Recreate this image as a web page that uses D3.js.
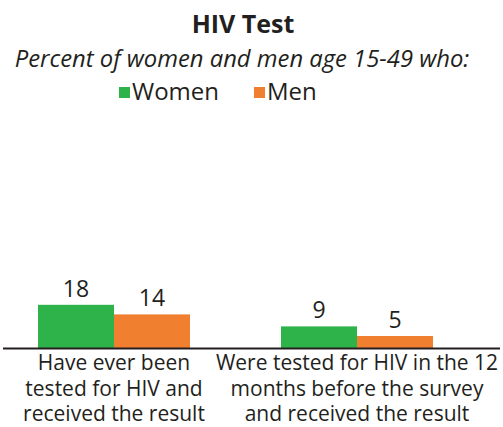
<!DOCTYPE html>
<html>
<head>
<meta charset="utf-8">
<script src="https://cdn.jsdelivr.net/npm/d3@7"></script>
<style>
    body { margin: 0; background: #fff; }
    svg { display: block; font-family: "Open Sans", sans-serif; }
</style>
</head>
<body>
<div id="wrapper"></div>
<script>
// data
const categories = ["ever", "last12"]
const categoryLabels = [
    ["Have ever been", "tested for HIV and", "received the result"],
    ["Were tested for HIV in the 12", "months before the survey", "and received the result"]
]
const seriesNames = ["Women", "Men"]
const womenValues = [18, 9]
const menValues = [14, 5]
const colors = ["#2db34a", "#f07f30"]

function drawChart() {
    const dataset = categories.map((c, i) => ({
        category: c,
        lines: categoryLabels[i],
        values: [
            {series: seriesNames[0], value: womenValues[i]},
            {series: seriesNames[1], value: menValues[i]}
        ]
    }))

    // chart dimensions
    let dimensions = {
        width: 503,
        height: 427,
        margin: {top: 108, right: 70, bottom: 79, left: 38}
    }
    dimensions.boundedWidth = dimensions.width
        - dimensions.margin.left
        - dimensions.margin.right
    dimensions.boundedHeight = dimensions.height
        - dimensions.margin.top
        - dimensions.margin.bottom

    const wrapper = d3.select("#wrapper")
        .append("svg")
        .attr("width", dimensions.width)
        .attr("height", dimensions.height)

    const textColor = "#231f20"

    // title + subtitle
    wrapper.append("text")
        .attr("x", 243)
        .attr("y", 33)
        .attr("text-anchor", "middle")
        .attr("font-weight", "bold")
        .attr("font-size", 25)
        .attr("fill", textColor)
        .text("HIV Test")

    wrapper.append("text")
        .attr("x", 242)
        .attr("y", 67)
        .attr("text-anchor", "middle")
        .attr("font-style", "italic")
        .attr("font-size", 23.8)
        .attr("fill", textColor)
        .text("Percent of women and men age 15-49 who:")

    // legend
    const legendX = [119, 254]
    const legend = wrapper.append("g")
        .selectAll("g")
        .data(seriesNames)
        .enter().append("g")
        .attr("transform", (d, i) => `translate(${legendX[i]}, 87)`)
    legend.append("rect")
        .attr("width", 11)
        .attr("height", 11)
        .attr("fill", (d, i) => colors[i])
    legend.append("text")
        .attr("x", 13)
        .attr("y", 13)
        .attr("font-size", 24)
        .attr("fill", textColor)
        .text(d => d)

    const bounds = wrapper.append("g")
        .attr("transform", `translate(${dimensions.margin.left}, ${dimensions.margin.top})`)

    // scales
    const yScale = d3.scaleLinear()
        .domain([0, 100])
        .range([dimensions.boundedHeight, 0])

    const xScale = d3.scaleBand()
        .domain(categories)
        .range([0, dimensions.boundedWidth])
        .paddingInner(0.3745)
        .paddingOuter(0)

    const xSub = d3.scaleBand()
        .domain(seriesNames)
        .range([0, xScale.bandwidth()])

    const colorScale = d3.scaleOrdinal()
        .domain(seriesNames)
        .range(colors)

    // bars
    const groups = bounds.append("g")
        .selectAll("g")
        .data(dataset)
        .enter().append("g")
        .attr("transform", d => `translate(${xScale(d.category)}, 0)`)

    groups.selectAll("rect")
        .data(d => d.values)
        .enter().append("rect")
        .attr("x", d => xSub(d.series))
        .attr("y", d => yScale(d.value))
        .attr("width", xSub.bandwidth())
        .attr("height", d => dimensions.boundedHeight - yScale(d.value))
        .attr("fill", d => colorScale(d.series))

    groups.selectAll("text.value")
        .data(d => d.values)
        .enter().append("text")
        .attr("class", "value")
        .attr("x", d => xSub(d.series) + xSub.bandwidth() / 2)
        .attr("y", d => yScale(d.value) - 8)
        .attr("text-anchor", "middle")
        .attr("font-size", 23)
        .attr("fill", textColor)
        .text(d => d.value)

    // baseline
    bounds.append("line")
        .attr("x1", 3 - dimensions.margin.left)
        .attr("x2", 500 - dimensions.margin.left)
        .attr("y1", dimensions.boundedHeight + 0.5)
        .attr("y2", dimensions.boundedHeight + 0.5)
        .attr("stroke", textColor)
        .attr("stroke-width", 2)

    // category labels
    const labels = groups.append("text")
        .attr("text-anchor", "middle")
        .attr("font-size", 21)
        .attr("fill", textColor)
    labels.selectAll("tspan")
        .data(d => d.lines)
        .enter().append("tspan")
        .attr("x", xScale.bandwidth() / 2)
        .attr("y", (d, i) => dimensions.boundedHeight + 22 + i * 25.5)
        .text(d => d)
}

drawChart()
</script>
</body>
</html>
